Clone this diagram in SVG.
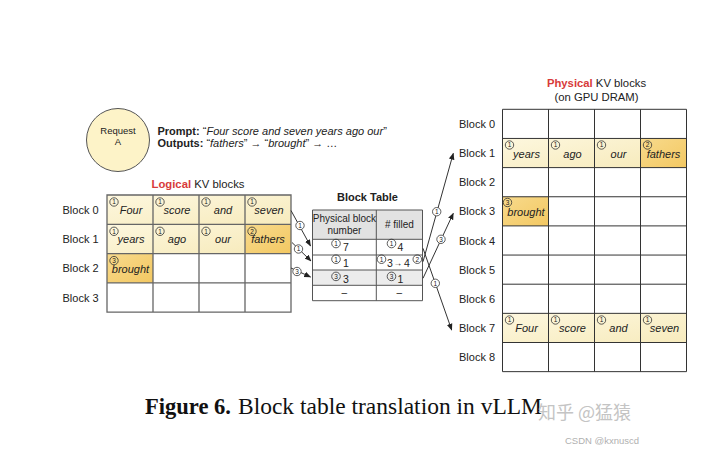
<svg xmlns="http://www.w3.org/2000/svg" width="720" height="451" viewBox="0 0 720 451">
<defs>
<linearGradient id="lt" x1="0" y1="0" x2="1" y2="1"><stop offset="0" stop-color="#fdf7de"/><stop offset="1" stop-color="#f7ebbd"/></linearGradient>
<linearGradient id="dk" x1="0" y1="0" x2="1" y2="1"><stop offset="0" stop-color="#f8da8c"/><stop offset="1" stop-color="#f3c862"/></linearGradient>
<marker id="ah" viewBox="0 0 10 10" refX="9" refY="5" markerWidth="7" markerHeight="7" orient="auto" markerUnits="userSpaceOnUse"><path d="M0,1 L10,5 L0,9 z" fill="#222"/></marker>
<style>
text{font-family:"Liberation Sans",Arial,sans-serif;fill:#222}
.lbl{font-size:11px}
.w{font-size:11px;font-style:italic;text-anchor:middle}
.cn{font-size:6.5px;text-anchor:middle}
.cc{fill:none;stroke:#333;stroke-width:0.8}
.cw{fill:#fff;stroke:#333;stroke-width:0.8}
.lg{fill:none;stroke:#666;stroke-width:1.3}
.pg{fill:none;stroke:#333;stroke-width:1}
.tb{fill:none;stroke:#555;stroke-width:1}
.ln{stroke:#333;stroke-width:1;fill:none}
.tt{font-size:10px;text-anchor:middle}
.red{fill:#d83a3a;font-weight:bold}
.cap{font-family:"Liberation Serif","Times New Roman",serif;font-size:23px;fill:#111}
</style>
</defs>
<rect width="720" height="451" fill="#fff"/>

<g id="request">
<circle cx="118" cy="140" r="31.5" fill="#fdf3c8" stroke="#555" stroke-width="1"/>
<text x="118" y="133.5" font-size="9.5" text-anchor="middle">Request</text>
<text x="118" y="145" font-size="9.5" text-anchor="middle">A</text>
</g>
<g id="prompt">
<text x="157.5" y="134.5" font-size="11"><tspan font-weight="bold">Prompt:</tspan> “<tspan font-style="italic">Four score and seven years ago our</tspan>”</text>
<text x="157.5" y="146.7" font-size="11"><tspan font-weight="bold">Outputs:</tspan> “<tspan font-style="italic">fathers</tspan>” → “<tspan font-style="italic">brought</tspan>” → …</text>
</g>

<g id="logical">
<text x="198" y="188" font-size="11.3" text-anchor="middle"><tspan class="red">Logical</tspan> KV blocks</text>
<rect x="107" y="195" width="184" height="29.3" fill="url(#lt)"/>
<rect x="107" y="224.3" width="138" height="29.3" fill="url(#lt)"/>
<rect x="245" y="224.3" width="46" height="29.3" fill="url(#dk)"/>
<rect x="107" y="253.6" width="46" height="29.3" fill="url(#dk)"/>
<path class="lg" d="M107,195H291V312.2H107Z M153,195V312.2 M199,195V312.2 M245,195V312.2 M107,224.3H291 M107,253.6H291 M107,282.9H291"/>
<text class="lbl" x="62.5" y="213.8">Block 0</text>
<text class="lbl" x="62.5" y="243.1">Block 1</text>
<text class="lbl" x="62.5" y="272.4">Block 2</text>
<text class="lbl" x="62.5" y="301.7">Block 3</text>
<text class="w" x="131" y="214">Four</text>
<text class="w" x="177" y="214">score</text>
<text class="w" x="223" y="214">and</text>
<text class="w" x="269" y="214">seven</text>
<text class="w" x="131" y="243.3">years</text>
<text class="w" x="177" y="243.3">ago</text>
<text class="w" x="223" y="243.3">our</text>
<text class="w" x="268" y="243.3">fathers</text>
<text class="w" x="130.5" y="272.6">brought</text>
<circle class="cc" cx="114" cy="202" r="4.2"/><text class="cn" x="114" y="204.3">1</text>
<circle class="cc" cx="160" cy="202" r="4.2"/><text class="cn" x="160" y="204.3">1</text>
<circle class="cc" cx="206" cy="202" r="4.2"/><text class="cn" x="206" y="204.3">1</text>
<circle class="cc" cx="252" cy="202" r="4.2"/><text class="cn" x="252" y="204.3">1</text>
<circle class="cc" cx="114" cy="231.3" r="4.2"/><text class="cn" x="114" y="233.6">1</text>
<circle class="cc" cx="160" cy="231.3" r="4.2"/><text class="cn" x="160" y="233.6">1</text>
<circle class="cc" cx="206" cy="231.3" r="4.2"/><text class="cn" x="206" y="233.6">1</text>
<circle class="cc" cx="252" cy="231.3" r="4.2"/><text class="cn" x="252" y="233.6">2</text>
<circle class="cc" cx="114" cy="260.6" r="4.2"/><text class="cn" x="114" y="262.9">3</text>
</g>

<g id="blocktable">
<text x="367.5" y="201" font-size="11" font-weight="bold" text-anchor="middle">Block Table</text>
<rect x="312.5" y="210" width="110" height="29.3" fill="#e2e2e2"/>
<rect x="312.5" y="270" width="110" height="15.3" fill="#ececec"/>
<path class="tb" d="M312.5,210H422.5V300.7H312.5Z M376.3,210V300.7 M312.5,239.3H422.5 M312.5,255H422.5 M312.5,270H422.5 M312.5,285.3H422.5"/>
<text class="tt" font-size="9.5" x="344.4" y="222.3">Physical block</text>
<text class="tt" font-size="9.5" x="344.4" y="234">number</text>
<text class="tt" font-size="9.5" x="399.4" y="228"># filled</text>
<circle class="cc" cx="336" cy="243.5" r="4.3"/><text class="cn" x="336" y="245.8">1</text><text x="343" y="251" font-size="10.5">7</text>
<circle class="cc" cx="391.5" cy="243.5" r="4.3"/><text class="cn" x="391.5" y="245.8">1</text><text x="397.5" y="251" font-size="10.5">4</text>
<circle class="cc" cx="336" cy="259.2" r="4.3"/><text class="cn" x="336" y="261.5">1</text><text x="343" y="266.7" font-size="10.5">1</text>
<circle class="cc" cx="381.5" cy="259.2" r="4.3"/><text class="cn" x="381.5" y="261.5">1</text><text x="387" y="266.7" font-size="10.5">3</text>
<text x="393.5" y="265.5" font-size="8.5">→</text><text x="404" y="266.7" font-size="10.5">4</text>
<circle class="cc" cx="417.3" cy="259.2" r="4.3"/><text class="cn" x="417.3" y="261.5">2</text>
<circle class="cc" cx="336" cy="276.4" r="4.3"/><text class="cn" x="336" y="278.7">3</text><text x="343" y="283.3" font-size="10.5">3</text>
<circle class="cc" cx="391.5" cy="276.4" r="4.3"/><text class="cn" x="391.5" y="278.7">3</text><text x="397.5" y="283.3" font-size="10.5">1</text>
<text class="tt" x="344.4" y="296">–</text>
<text class="tt" x="399.4" y="296">–</text>
</g>

<g id="physical">
<text x="596.5" y="87" font-size="11.3" text-anchor="middle"><tspan class="red">Physical</tspan> KV blocks</text>
<text x="596.5" y="101.3" font-size="11.3" text-anchor="middle">(on GPU DRAM)</text>
<rect x="502.5" y="138.45" width="138" height="29.15" fill="url(#lt)"/>
<rect x="640.5" y="138.45" width="46" height="29.15" fill="url(#dk)"/>
<rect x="502.5" y="196.75" width="46" height="29.15" fill="url(#dk)"/>
<rect x="502.5" y="313.35" width="184" height="29.15" fill="url(#lt)"/>
<path class="pg" d="M502.5,109.3H686.5V371.65H502.5Z M548.5,109.3V371.65 M594.5,109.3V371.65 M640.5,109.3V371.65 M502.5,138.45H686.5 M502.5,167.6H686.5 M502.5,196.75H686.5 M502.5,225.9H686.5 M502.5,255.05H686.5 M502.5,284.2H686.5 M502.5,313.35H686.5 M502.5,342.5H686.5"/>
<text class="lbl" x="459" y="127.9">Block 0</text>
<text class="lbl" x="459" y="157">Block 1</text>
<text class="lbl" x="459" y="186.2">Block 2</text>
<text class="lbl" x="459" y="215.3">Block 3</text>
<text class="lbl" x="459" y="244.5">Block 4</text>
<text class="lbl" x="459" y="273.6">Block 5</text>
<text class="lbl" x="459" y="302.8">Block 6</text>
<text class="lbl" x="459" y="331.9">Block 7</text>
<text class="lbl" x="459" y="361.1">Block 8</text>
<text class="w" x="526.5" y="157.5">years</text>
<text class="w" x="572.5" y="157.5">ago</text>
<text class="w" x="618.5" y="157.5">our</text>
<text class="w" x="663.5" y="157.5">fathers</text>
<text class="w" x="526" y="215.8">brought</text>
<text class="w" x="526.5" y="332.4">Four</text>
<text class="w" x="572.5" y="332.4">score</text>
<text class="w" x="618.5" y="332.4">and</text>
<text class="w" x="664.5" y="332.4">seven</text>
<circle class="cc" cx="509.5" cy="145" r="4.2"/><text class="cn" x="509.5" y="147.3">1</text>
<circle class="cc" cx="555.5" cy="145" r="4.2"/><text class="cn" x="555.5" y="147.3">1</text>
<circle class="cc" cx="601.5" cy="145" r="4.2"/><text class="cn" x="601.5" y="147.3">1</text>
<circle class="cc" cx="647.5" cy="145" r="4.2"/><text class="cn" x="647.5" y="147.3">2</text>
<circle class="cc" cx="507.5" cy="202.5" r="4.2"/><text class="cn" x="507.5" y="204.8">3</text>
<circle class="cc" cx="509.5" cy="320" r="4.2"/><text class="cn" x="509.5" y="322.3">1</text>
<circle class="cc" cx="555.5" cy="320" r="4.2"/><text class="cn" x="555.5" y="322.3">1</text>
<circle class="cc" cx="601.5" cy="320" r="4.2"/><text class="cn" x="601.5" y="322.3">1</text>
<circle class="cc" cx="647.5" cy="320" r="4.2"/><text class="cn" x="647.5" y="322.3">1</text>
</g>

<g id="connectors">
<line class="ln" x1="291" y1="210.5" x2="310.5" y2="246" marker-end="url(#ah)"/>
<line class="ln" x1="292" y1="242.5" x2="311" y2="261" marker-end="url(#ah)"/>
<line class="ln" x1="291" y1="268" x2="310.5" y2="277" marker-end="url(#ah)"/>
<line class="ln" x1="423" y1="261.7" x2="453.3" y2="153.3" marker-end="url(#ah)"/>
<line class="ln" x1="423" y1="278.3" x2="453.3" y2="213.3" marker-end="url(#ah)"/>
<line class="ln" x1="423" y1="248.3" x2="451.7" y2="330" marker-end="url(#ah)"/>
<circle class="cw" cx="300" cy="225.5" r="4.2"/><text class="cn" x="300" y="227.8">1</text>
<circle class="cw" cx="298.5" cy="249" r="4.2"/><text class="cn" x="298.5" y="251.3">1</text>
<circle class="cw" cx="297" cy="271.5" r="4.2"/><text class="cn" x="297" y="273.8">3</text>
<circle class="cw" cx="436.7" cy="211.7" r="4.2"/><text class="cn" x="436.7" y="214">1</text>
<circle class="cw" cx="441" cy="239.3" r="4.2"/><text class="cn" x="441" y="241.6">3</text>
<circle class="cw" cx="435.3" cy="283.3" r="4.2"/><text class="cn" x="435.3" y="285.6">1</text>
</g>

<g id="caption">
<text class="cap" x="145" y="414" font-weight="bold" textLength="86" lengthAdjust="spacingAndGlyphs">Figure 6.</text>
<text class="cap" x="238" y="414" textLength="304" lengthAdjust="spacingAndGlyphs">Block table translation in vLLM</text>
<text x="538" y="419" font-size="18" style="font-family:'Noto Sans CJK SC',sans-serif;fill:#c4c4c4">知乎 @猛猿</text>
<text x="565" y="443.5" font-size="9.5" style="font-family:'Liberation Sans',sans-serif;fill:#b0b0b0">CSDN @kxnuscd</text>
</g>
</svg>
